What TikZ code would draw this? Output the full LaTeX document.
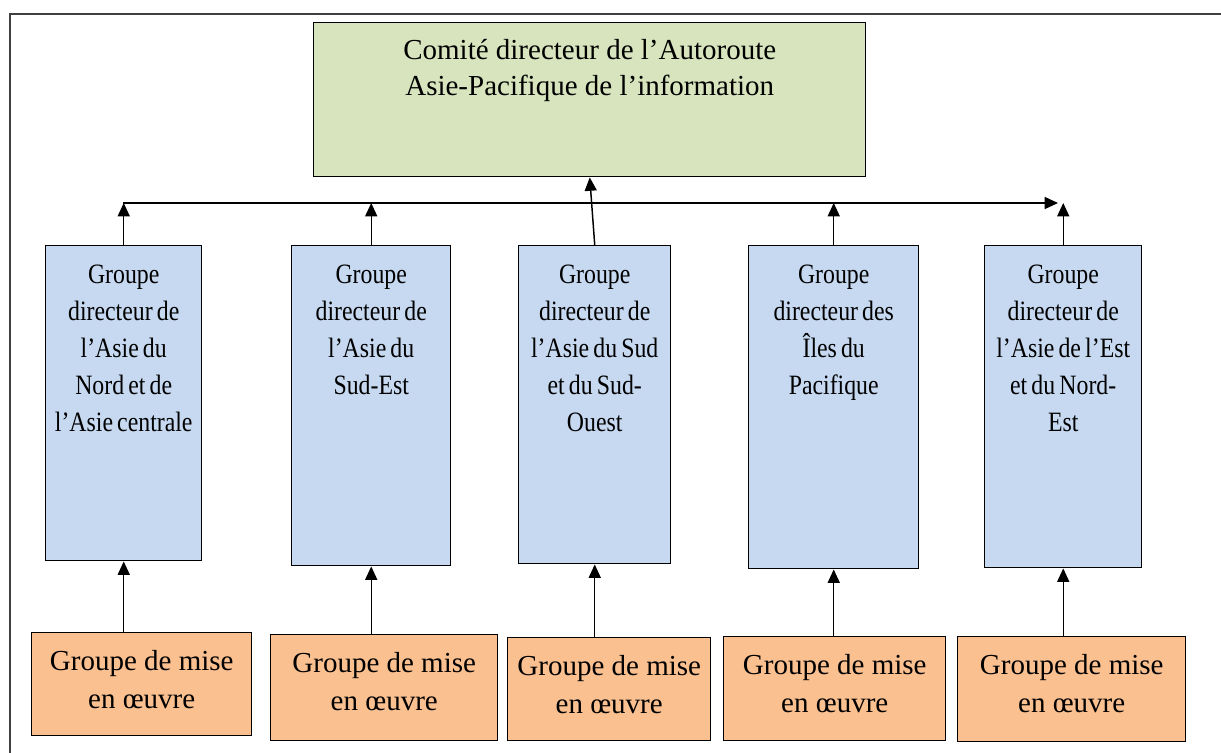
\documentclass[tikz,border=0pt]{standalone}
\usepackage{fontspec}
\setmainfont{Liberation Serif}
\newfontfamily\narrowfont[FakeStretch=0.85,WordSpace=0.7]{Liberation Serif}
\usetikzlibrary{arrows.meta}
\definecolor{topgreen}{HTML}{D7E4BD}
\definecolor{groupblue}{HTML}{C6D9F1}
\definecolor{miseorange}{HTML}{FAC090}

\begin{document}
\begin{tikzpicture}[->,>={Triangle[length=10pt,width=9pt]},x=0.75pt,y=-0.75pt,line width=1.1pt]
\tikzstyle{box}=[draw=black,anchor=north west,inner sep=0pt,align=flush center,text height=28.5pt]
\tikzstyle{comite}=[box,fill=topgreen,font=\fontsize{21.75}{27}\selectfont,text height=27.75pt]
\tikzstyle{groupe}=[box,fill=groupblue,font=\narrowfont\fontsize{21}{27.75}\selectfont]
\tikzstyle{mise}=[box,fill=miseorange,font=\fontsize{21.75}{28.5}\selectfont]

\useasboundingbox (0,0) rectangle (1221,753);
\draw[-,black!75,line width=1pt] (10,753) -- (10,14) -- (1221,14);

% comite
\node[comite,text width=414pt,text depth=87.75pt] (Top) at (313,22)
  {Comité directeur de l’Autoroute\\Asie-Pacifique de l’information};

% groupes directeurs
\node[groupe,text width=117pt,text depth=207.75pt] (G1) at (45,245)
  {Groupe\\directeur de\\l’Asie du\\Nord et de\\l’Asie centrale};
\node[groupe,text width=119.25pt,text depth=211.5pt] (G2) at (291,245)
  {Groupe\\directeur de\\l’Asie du\\Sud-Est};
\node[groupe,text width=114pt,text depth=210pt] (G3) at (518,245)
  {Groupe\\directeur de\\l’Asie du Sud\\et du Sud-\\Ouest};
\node[groupe,text width=127.5pt,text depth=213.75pt] (G4) at (748,245)
  {Groupe\\directeur des\\Îles du\\Pacifique};
\node[groupe,text width=117.75pt,text depth=213pt] (G5) at (984,245)
  {Groupe\\directeur de\\l’Asie de l’Est\\et du Nord-\\Est};

% groupes de mise en oeuvre
\node[mise,text width=165pt,text depth=48.75pt] (M1) at (31,632) {Groupe de mise\\en œuvre};
\node[mise,text width=170.25pt,text depth=51pt] (M2) at (270,634) {Groupe de mise\\en œuvre};
\node[mise,text width=152.25pt,text depth=48.75pt] (M3) at (507,637) {Groupe de mise\\en œuvre};
\node[mise,text width=166.5pt,text depth=49.5pt] (M4) at (723,636) {Groupe de mise\\en œuvre};
\node[mise,text width=171pt,text depth=50.25pt] (M5) at (957,636) {Groupe de mise\\en œuvre};

\coordinate (busL) at (123,203);
\coordinate (busR) at (1058,203);

\draw (busL) -- (busR);
\foreach \g in {G1,G2,G4,G5}
  \draw (\g.north) -- (\g.north |- busL);
\draw (G3.north) -- (Top.south);
\foreach \i in {1,...,5}
  \draw (G\i.south |- M\i.north) -- (G\i.south);
\end{tikzpicture}
\end{document}
